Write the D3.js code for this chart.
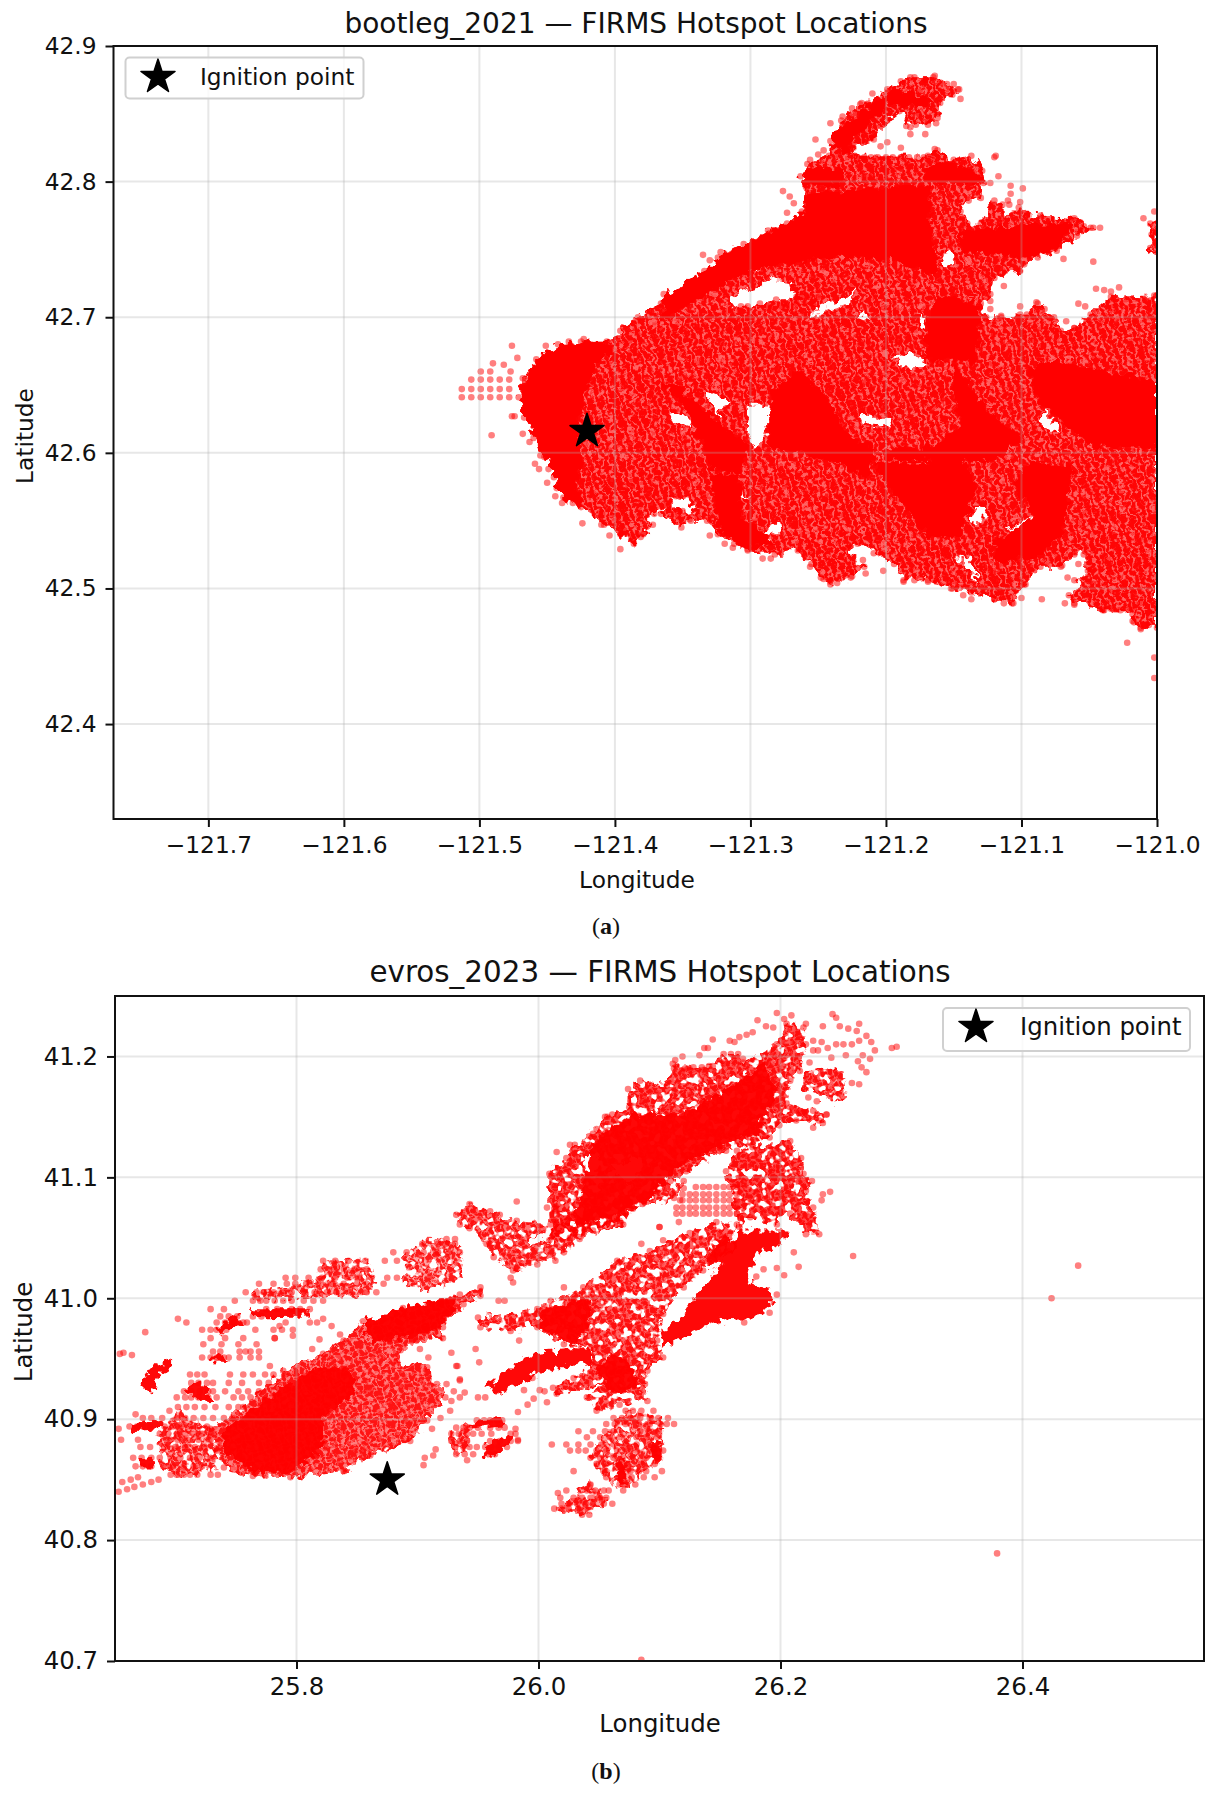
<!DOCTYPE html>
<html><head><meta charset="utf-8">
<script src="https://cdn.jsdelivr.net/npm/d3@7"></script>
<style>html,body{margin:0;background:#fff}svg{display:block}text{font-family:"DejaVu Sans";fill:#111}</style>
</head><body><svg id="c" width="1216" height="1794"></svg>
<script>
// Values are in thousandths of a degree from an origin: panel A west of -121 / north of 42, panel B east of 25 / north of 40.
const titleA="bootleg_2021 — FIRMS Hotspot Locations", titleB="evros_2023 — FIRMS Hotspot Locations";
const xTicksA=[-121.7,-121.6,-121.5,-121.4,-121.3,-121.2,-121.1,-121.0], yTicksA=[42.4,42.5,42.6,42.7,42.8,42.9];
const xTicksB=[25.8,26.0,26.2,26.4], yTicksB=[40.7,40.8,40.9,41.0,41.1,41.2];
const ignitionA=[-121.4206,42.616], ignitionB=[25.875,40.85];

// Saturated areas where single hotspots cannot be told apart: outline, then holes
const areaA=[
[471,641,468,655,458,669,442,680,425,682,406,682,396,690,383,700,366,710,364,717,346,723,334,734,324,744,305,754,287,764,273,769,262,778,259,796,263,804,258,813,242,819,241,830,233,845,219,857,199,868,182,877,165,877,147,868,160,858,162,847,169,842,182,840,190,852,199,845,209,831,224,825,223,819,169,819,162,823,150,816,137,819,129,808,128,799,130,788,139,786,145,778,140,769,130,769,120,786,114,783,114,773,102,781,96,776,86,775,61,773,47,766,59,760,74,749,88,744,98,739,101,734,120,729,123,717,130,710,126,700,115,700,96,702,88,710,76,700,71,690,61,692,49,702,34,715,2,716,0,716,0,471,12,471,18,476,17,484,39,484,61,489,65,495,51,513,54,525,61,525,71,516,86,516,98,503,106,489,120,492,137,497,152,500,169,506,187,506,194,518,209,526,221,533,228,530,216,516,226,508,241,503,248,508,255,518,265,528,282,525,302,528,312,533,324,540,332,550,344,550,351,545,366,555,361,560,371,555,379,540,386,533,396,540,408,547,425,560,438,567,445,582,452,597,460,611,467,626],
[6,769,0,773,0,745,6,749,3,759]];
const holesA=[
[317,716,295,722,285,728,270,726,268,717,280,711,307,708,313,707],
[255,700,238,706,226,710,223,722,232,713,250,710],
[157,737,148,742,153,751,160,742],
[194,672,182,673,169,666,177,663,189,664],
[359,629,351,630,345,624,346,618,354,620],
[335,645,327,643,317,639,324,627,329,636],
[301,634,286,636,286,621,291,607,298,605,302,619],
[359,567,351,567,341,560,346,554,356,560],
[292,540,280,548,279,541,287,538],
[220,629,196,624,199,620,216,621],
[110,543,93,553,93,540,106,538],
[147,523,140,523,130,503,137,511],
[135,560,126,560,128,550,137,548],
[83,631,71,614,86,621],
[309,570,300,567,309,566],
[221,700,209,697,219,705],
[177,702,169,697,174,692],
[297,735,293,734,298,733]];
const coreA=[
[471,641,458,669,442,680,406,682,401,675,413,665,423,643,428,614,425,596,428,574,425,560,438,567,452,597,467,626],
[364,717,336,732,324,744,273,769,260,778,260,791,167,798,167,771,162,732,169,732,194,742,238,744,292,737,324,722,366,697],
[260,810,233,810,233,797,260,797],
[174,810,152,815,130,805,130,799,169,799],
[241,825,238,837,209,859,194,869,162,859,174,855,199,857,214,840,226,830,226,820],
[145,764,86,769,61,769,74,751,91,744,115,746,145,749],
[162,717,130,710,133,668,172,668,169,697],
[285,646,263,661,241,636,228,612,209,604,214,580,228,589,268,602,287,602],
[150,666,130,638,120,626,98,612,120,594,199,594,199,604,169,604,145,619,150,646],
[76,668,0,653,0,604,46,604,61,616,86,636,96,663],
[96,592,61,592,71,538,88,523,120,518,120,535,91,553,106,577],
[209,592,179,592,145,597,133,577,145,538,169,538,194,570],
[329,584,309,584,307,553,282,533,305,530,324,545],
[366,653,352,648,327,626,302,606,307,584,329,589,347,631]];

// Single hotspots read at the fringes (west, north)
const westLatticeA=[506,654,499,654,492,654,485,654,478,654,513,647,506,647,499,647,492,647,485,647,478,647,513,641,506,641,499,641,492,641,485,641,478,641,499,660,492,660,490,666,482,665,476,679];
const southWestA=[491,613,476,627,474,627,463,608,468,614,459,592,455,598,456,588,450,578,449,588,443,574,444,568,439,563,431,563,424,548,410,547,404,539,396,529,387,536,381,538,372,547,355,568,350,557,345,551,339,553,330,539,319,533,313,530,302,529,291,522,285,522,472,670,477,660,451,679,434,682,423,684];
const southA=[256,516,217,521,215,511,202,513,187,505,143,495,137,492,120,492,113,489,107,489,100,493,97,503,85,492,68,489,66,508,61,506,58,518,70,517,22,460,2,449,2,434,17,475,12,470,6,473,18,481,241,505,236,504,246,507,225,509,179,506,169,505,162,505,151,500,34,485,40,484,27,484,61,488];
const northA=[335,746,330,742,322,748,276,793,271,789,268,784,273,777,252,831,256,816,250,820,246,823,241,843,232,848,225,854,218,858,210,865,164,824,119,819,120,818,117,804,108,797,99,795,108,791,110,786,123,799,109,783,101,785,69,743,47,741,42,766,49,766,54,767,10,773,2,778,5,769,4,761,5,751,113,723,58,710,53,708,45,721,39,720,34,719,28,722,89,711,101,708,83,706,67,697,61,692,123,712,123,706,115,701,101,702];
const plumeA=[189,874,179,877,171,875,164,878,160,873,155,872,150,872,146,868,151,864,145,861,162,850,163,843,169,845,176,850,171,835,182,835,178,842,185,841,189,825,199,829,204,826,211,832,221,818,216,818,211,818,206,818,200,818,195,818,189,818,183,818,177,818,172,818,266,715,262,715,256,715,250,715,266,710,260,710,254,710,307,708,302,708,293,710,287,708,281,713,277,708,273,708];

const areaB=[729,892,756,910,789,940,822,954,839,965,855,981,888,992,935,1003,952,1009,952,1002,938,995,921,976,921,967,899,965,886,957,883,948,908,943,916,929,923,918,908,899,894,882,861,870,839,857,795,852,764,853,740,860,734,874];
const coreB=[
[740,892,789,926,817,943,844,943,850,921,822,904,822,877,795,855,764,857,740,874],
[855,981,888,992,935,1002,921,976,894,967,861,965],
[1000,990,1043,1001,1040,976,1029,962,1004,973],
[1059,954,1073,951,1076,943,1084,932,1070,921,1056,926,1048,943],
[1167,1056,1205,1056,1202,1045,1180,1036,1172,1014,1191,1006,1193,995,1180,984,1161,984,1136,976,1120,969,1103,959,1101,973,1120,984,1123,992,1139,1014,1156,1036],
[956,926,982,947,999,955,1043,959,1045,947,1007,940,993,934,968,921],
[1045,1130,1078,1152,1119,1152,1161,1177,1186,1194,1197,1172,1180,1136,1153,1127,1114,1108,1092,1083,1056,1067,1029,1059],
[671,929,680,943,698,950,698,945,685,934,683,923,672,926],
[707,925,720,932,731,918,731,912,720,915,712,921],
[733,976,752,987,755,980,737,970],
[729,952,742,954,745,947,731,948],
[764,991,811,991,811,985,764,984],
[662,896,690,900,690,892,665,890],
[671,866,682,868,682,860,672,860],
[949,900,970,901,972,895,943,892],
[954,877,977,888,978,883,963,868,956,870],
[1092,882,1103,877,1101,866,1091,871],
[1065,868,1073,863,1072,846,1066,846],
[1150,1028,1165,1045,1152,1050,1138,1030]];
const sparseB=[
[687,877,729,892,737,860,701,852,687,860],
[701,907,729,892,687,877,687,888],
[888,1036,910,1050,935,1045,938,1017,908,1006,891,1009],
[817,1014,822,1031,858,1032,866,1014,861,1003,822,1001],
[764,1006,817,1014,822,1001,764,998],
[927,888,943,896,943,879,932,868,927,877],
[1048,879,1062,896,1076,907,1103,901,1103,868,1070,841,1051,857,1043,868],
[1015,824,1043,849,1059,833,1040,821]];
const bandB=[950,984,999,991,1010,998,1037,1009,1065,1031,1092,1039,1125,1054,1147,1063,1164,1061,1156,1039,1136,1023,1120,1009,1103,987,1098,965,1103,951,1090,940,1088,929,1090,915,1067,912,1048,907,1040,918,1056,929,1015,921,1012,926,1029,934,1045,947,1043,959,1021,962,999,976,977,973,952,976];
const nwB=[932,1069,943,1078,960,1072,968,1069,982,1064,1010,1061,1029,1069,1065,1080,1109,1097,1120,1097,1120,1091,1112,1083,1078,1074,1070,1061,1034,1049,1021,1038,999,1028,979,1023,963,1034,957,1045,943,1058,935,1061];
const nwHoleB=[993,1050,1010,1056,1010,1049,993,1043];
const mainNB=[1009,1103,1023,1116,1030,1127,1045,1136,1057,1150,1075,1158,1074,1173,1084,1180,1106,1176,1111,1194,1144,1192,1153,1202,1165,1202,1169,1195,1197,1210,1205,1227,1219,1224,1221,1210,1216,1188,1208,1180,1205,1161,1227,1155,1238,1152,1235,1145,1213,1147,1199,1143,1191,1133,1177,1127,1155,1122,1122,1105,1106,1092,1086,1078,1067,1064,1045,1056,1026,1050,1009,1048];
const mainNHolesB=[[1062,1111,1086,1116,1086,1105,1075,1094,1064,1103],[1095,1155,1103,1152,1097,1147],[1037,1116,1051,1116,1048,1103,1040,1105]];
const neBlobB=[1219,1185,1232,1191,1252,1188,1254,1166,1246,1161,1230,1169,1219,1173];
const midNB=[1164,1122,1177,1125,1208,1130,1217,1116,1219,1103,1226,1097,1221,1089,1227,1075,1232,1053,1221,1053,1208,1070,1199,1070,1197,1061,1175,1067,1166,1059,1164,1070,1155,1105];

// Single hotspots by latitude row: [lat, lons...]
const rowsB=[
[883,669,696,702,711,719,729],[877,671,679,691,700,708,716,724],[868,665,672,680,687,696,704,712,720,729],[861,667,673,680,690,698,707,715,722],[854,696,701,707,712,718,729,735],[888,687,694,701,708,715,722,729],[894,698,705,712,719,726,662,668,673,679,691],[901,701,708,715,723,731,740,747,689,673,680],[910,702,709,716,724,733,744,752],[918,701,708,713,719,727,734,748,755,762,950,956],[923,707,713,720,727,731,741,752,760,769],[930,713,719,726,731,744,755,769,777],[937,712,718,724,745,756,764,774,781,791],[951,722,729,734,740,744,753,762,769],[956,731,737,753,758,762],[962,723,738,752,767],[967,729,741,756,782],[974,722,729,734,742,766,781,788,797],[980,734,741,748,756,759,791,817],[985,737,744,751,764,771],[991,729,740,775,784,796,803,811],[998,749,764,770,775,782,789,796,806,814,822],[1005,758,767,773,781,789,796,807,815,825,833,844,858,866],[1012,769,781,792,799,808,818,829,839,850,858,872],[1017,791,799,810,821,832,842,851,862,875,883],[1024,820,831,839,848,858],[1031,822,832,843,857,873,883],[1038,880,891,905,917,926,935],[1045,904,917,924,931],[1049,924,931],
[899,949,955,960,966,970],[893,932,938,943,950,960,967,972],[888,928,934,941,946,953,961,977,981],[882,928,935,941,960,968,977,983],[877,931,938,943,949,956,961,967,974],[871,932,939,946,959,964],[866,941],
[907,1072,1078,1085,1095],[901,1062,1069,1076,1084,1092,1099,1107],[896,1056,1063,1072,1083,1092,1101,1106,1112],[890,1033,1045,1055,1062,1084,1091,1099],[885,1040,1051,1059,1067,1081,1089,1098],[879,1011,1023,1033,1043,1052,1062,1072,1081,1092,1099],[874,1026,1033,1039,1048,1056,1065,1073,1080,1092,1098,1103],[868,1043,1051,1062,1070,1078,1089,1098],[863,1048,1056,1069,1074,1085,1096],[857,1029,1055,1069,1076,1083,1089,1102],[852,1056,1067,1077,1087,1096],[846,1043,1067,1072,1080],[841,1023,1040,1047,1054,1058,1070],[839,1016],[835,1018,1029,1036,1043,1050,1056],[830,1019,1025,1032,1039,1045,1054,1061],[826,1013,1019,1025,1033,1039],[821,1036,1042],
[1092,1130,1136,1141,1147,1153,1158,1164],[1086,1119,1125,1130,1136,1141,1147,1153,1158,1164,1111],[1081,1117,1119,1125,1130,1136,1141,1147,1153,1158,1164],[1075,1114,1119,1125,1130,1136,1141,1147,1153,1158,1164],[1070,1114,1119,1125,1130,1136,1141,1147,1153,1158,1164]];
const scatterB=[653,840,660,842,666,844,673,846,680,848,686,850,656,848,663,850,669,852,653,892,655,883,657,955,664,953,654,954,675,972,702,983,709,980,667,904,695,907,769,956,778,944,782,967,797,969,813,958,819,966,829,977,822,983,836,970,811,980,786,977,924,929,930,923,928,915,927,907,919,901,912,892,935,933,932,944,951,947,928,955,948,958,909,951,902,958,906,868,905,862,915,875,913,870,983,906,981,892,983,883];
const eastB=[1235,1086,1241,1088,1234,1081,1260,1035,1215,1026,1203,1019,1211,1038,1197,1003,1191,988,1170,980,1186,1024,1180,1018,1197,1025,1424,1000,1446,1027,1379,789,1085,701,1100,1059,1103,1048,1085,1045,1014,1031,1007,1075,1014,1076,1014,1072,982,1080,977,1017,979,1013,967,998,972,998,984,965,933,944,935,932,939,922,935,918,988,924,995,934,1007,914,1021,1009,1116,1063,1100,1059,991,912,996,917,1001,924,1005,923];
const topArcB=[1158,1213,1162,1212,1166,1216,1172,1218,1177,1220,1181,1230,1188,1225,1194,1224,1197,1236,1203,1231,1209,1234,1221,1227,1144,1214,1137,1207,1140,1207,1133,1201,1119,1200,1113,1197,1112,1190,1121,1190,1128,1191,1135,1191,1141,1192,1153,1194,1159,1202,1169,1198,1055,1150,1061,1152,1048,1140,1042,1134,1026,1127,1015,1121,1013,1078,1013,1074];
const neB=[1227,1213,1234,1212,1231,1205,1239,1207,1246,1210,1252,1210,1242,1199,1254,1201,1259,1210,1265,1213,1271,1217,1275,1212,1278,1205,1274,1198,1271,1187,1265,1177,1259,1178,1235,1225,1243,1235,1246,1232,1249,1225,1256,1223,1265,1227,1263,1221,1292,1207,1296,1208,1264,1196,1267,1191,1268,1201,1224,1195,1227,1205,1223,1166,1230,1163,1208,1158,1214,1155,1219,1154,1227,1141,1232,1147,1238,1152];

const pairs=f=>{const o=[];for(let i=0;i<f.length;i+=2)o.push([f[i],f[i+1]]);return o;};
const svg=d3.select("#c");
const star=d3.symbol().type(d3.symbolStar).size(360);
const defs=svg.append("defs");
function pattern(id,w,h,rot,op){const p=defs.append("pattern").attr("id",id).attr("patternUnits","userSpaceOnUse").attr("width",w).attr("height",h).attr("patternTransform",`rotate(${rot})`);
  p.append("circle").attr("cx",w/2).attr("cy",h/2).attr("r",3.3).attr("fill","#ff0000").attr("fill-opacity",op);}
pattern("patA",7.4,6.4,-20,.95);pattern("patB",7.6,7,-22,.85);
function filter(id,scale,gaps,freq,seed){const f=defs.append("filter").attr("id",id).attr("filterUnits","userSpaceOnUse").attr("x",0).attr("y",0).attr("width",1216).attr("height",1794).attr("color-interpolation-filters","sRGB");
  f.append("feTurbulence").attr("type","fractalNoise").attr("baseFrequency",freq).attr("numOctaves",2).attr("seed",seed).attr("result","n");
  f.append("feDisplacementMap").attr("in","SourceGraphic").attr("in2","n").attr("scale",scale).attr("xChannelSelector","R").attr("yChannelSelector","G").attr("result","d");
  if(gaps){f.append("feColorMatrix").attr("in","n").attr("type","matrix").attr("values",`0 0 0 0 0 0 0 0 0 0 0 0 0 0 0 ${gaps[0]} 0 0 0 ${gaps[1]}`).attr("result","m");
    f.append("feComposite").attr("in","d").attr("in2","m").attr("operator","in");}}
filter("rough",14,null,.13,4);filter("speck",14,[11,-3.9],.13,7);

function panel(cfg){
  const x=d3.scaleLinear().domain(cfg.xd).range(cfg.xr), y=d3.scaleLinear().domain(cfg.yd).range(cfg.yr);
  const g=svg.append("g");
  const P=([a,b])=>[x(cfg.lon(a)),y(cfg.lat(b))];
  const ring=f=>d3.line()(pairs(f).map(P))+"Z";
  const id="clip"+cfg.key;
  g.append("clipPath").attr("id",id).append("rect").attr("x",cfg.xr[0]).attr("y",cfg.yr[1]).attr("width",cfg.xr[1]-cfg.xr[0]).attr("height",cfg.yr[0]-cfg.yr[1]);
  const plot=g.append("g").attr("clip-path",`url(#${id})`);
  [["speck",cfg.speck],["rough",cfg.rough]].forEach(([fid,ls])=>{
    const lg=plot.append("g").attr("filter",`url(#${fid})`);
    ls.forEach(l=>{const d=l.rings.map(ring).join("");
      lg.append("path").attr("d",d).attr("fill","#ff0000").attr("fill-opacity",l.o).attr("fill-rule","evenodd");
      if(l.pat) lg.append("path").attr("d",d).attr("fill",`url(#${l.pat})`).attr("fill-rule","evenodd");});
  });
  plot.selectAll("circle.h").data(cfg.points).join("circle").attr("class","h").attr("cx",d=>P(d)[0]).attr("cy",d=>P(d)[1]).attr("r",3.3).attr("fill","#ff0000").attr("fill-opacity",.5);
  plot.selectAll("line.gx").data(cfg.xt).join("line").attr("x1",d=>x(d)).attr("x2",d=>x(d)).attr("y1",cfg.yr[0]).attr("y2",cfg.yr[1]).attr("stroke","#b0b0b0").attr("stroke-opacity",.3).attr("stroke-width",2);
  plot.selectAll("line.gy").data(cfg.yt).join("line").attr("y1",d=>y(d)).attr("y2",d=>y(d)).attr("x1",cfg.xr[0]).attr("x2",cfg.xr[1]).attr("stroke","#b0b0b0").attr("stroke-opacity",.3).attr("stroke-width",2);
  g.append("path").attr("d",star()).attr("transform",`translate(${x(cfg.ign[0])},${y(cfg.ign[1])})`).attr("fill","#000").attr("stroke","#000").attr("stroke-width",1.5).attr("stroke-linejoin","round");
  const ax=g.append("g").attr("transform",`translate(0,${cfg.yr[0]})`).call(d3.axisBottom(x).tickValues(cfg.xt).tickFormat(d3.format(".1f")).tickSize(8).tickPadding(9));
  const ay=g.append("g").attr("transform",`translate(${cfg.xr[0]},0)`).call(d3.axisLeft(y).tickValues(cfg.yt).tickFormat(d3.format(".1f")).tickSize(8).tickPadding(9));
  [ax,ay].forEach(a=>{a.selectAll("text").attr("font-family","DejaVu Sans").attr("font-size",cfg.fs).attr("fill","#111");a.selectAll("line").attr("stroke","#111").attr("stroke-width",2);a.select(".domain").remove();});
  g.append("rect").attr("x",cfg.xr[0]).attr("y",cfg.yr[1]).attr("width",cfg.xr[1]-cfg.xr[0]).attr("height",cfg.yr[0]-cfg.yr[1]).attr("fill","none").attr("stroke","#111").attr("stroke-width",2);
  g.append("text").attr("x",cfg.titleX).attr("y",cfg.titleY).attr("text-anchor","middle").attr("font-size",cfg.tfs).text(cfg.title);
  g.append("text").attr("x",cfg.xlabX).attr("y",cfg.xlabY).attr("text-anchor","middle").attr("font-size",cfg.fs).text("Longitude");
  g.append("text").attr("transform",`translate(${cfg.ylabX},${cfg.ylabY}) rotate(-90)`).attr("text-anchor","middle").attr("font-size",cfg.fs).text("Latitude");
  const L=cfg.legend;
  g.append("rect").attr("x",L.x).attr("y",L.y).attr("width",L.w).attr("height",L.h).attr("rx",4).attr("fill","#fff").attr("fill-opacity",.8).attr("stroke","#d0d0d0").attr("stroke-width",2);
  g.append("path").attr("d",star()).attr("transform",`translate(${L.sx},${L.sy})`).attr("fill","#000").attr("stroke","#000").attr("stroke-width",1.5).attr("stroke-linejoin","round");
  g.append("text").attr("x",L.tx).attr("y",L.sy+8).attr("font-size",cfg.fs).text("Ignition point");
}

panel({key:"A",xd:[-121.77,-121.0],xr:[113.5,1157],yd:[42.33,42.9],yr:[819,46],fs:23.3,tfs:28,
  lon:w=>-121-w/1000,lat:n=>42+n/1000,
  speck:[],
  rough:[{rings:areaA.concat(holesA),o:.6,pat:"patA"}].concat(coreA.map(c=>({rings:[c],o:1}))),
  points:[westLatticeA,southWestA,southA,northA,plumeA,areaA[0]].flatMap(pairs),
  xt:xTicksA,yt:yTicksA,ign:ignitionA,title:titleA,titleX:636,titleY:33,xlabX:637,xlabY:888,ylabX:33,ylabY:436,
  legend:{x:125.5,y:57.5,w:238,h:41,sx:158,sy:77,tx:200}});

const rowPts=rowsB.flatMap(r=>r.slice(1).map(e=>[e,r[0]]));
panel({key:"B",xd:[25.65,26.55],xr:[115,1204],yd:[40.7,41.25],yr:[1661,996],fs:24.4,tfs:29.4,
  lon:e=>25+e/1000,lat:n=>40+n/1000,
  speck:sparseB.map(r=>({rings:[r],o:.35,pat:"patB"})).concat([{rings:[bandB],o:.6,pat:"patB"},{rings:[nwB,nwHoleB],o:.55,pat:"patB"},{rings:[mainNB].concat(mainNHolesB),o:.65,pat:"patB"},{rings:[neBlobB],o:.6,pat:"patB"},{rings:[midNB],o:.7,pat:"patB"}]),
  rough:[{rings:[areaB],o:.5,pat:"patB"}].concat(coreB.map(c=>({rings:[c],o:.97}))),
  points:rowPts.concat([scatterB,eastB,topArcB,neB,areaB,bandB,nwB,mainNB,midNB].flatMap(pairs)),
  xt:xTicksB,yt:yTicksB,ign:ignitionB,title:titleB,titleX:660,titleY:982,xlabX:660,xlabY:1732,ylabX:32,ylabY:1332,
  legend:{x:943,y:1008,w:247,h:43,sx:976,sy:1027,tx:1020}});

[["a",606,934],["b",606,1779]].forEach(([t,px,py])=>{
  const c=svg.append("text").attr("x",px).attr("y",py).attr("text-anchor","middle").style("font-family","'Liberation Serif'").attr("font-size",24);
  c.append("tspan").text("(");c.append("tspan").attr("font-weight","bold").text(t);c.append("tspan").text(")");
});
</script></body></html>
